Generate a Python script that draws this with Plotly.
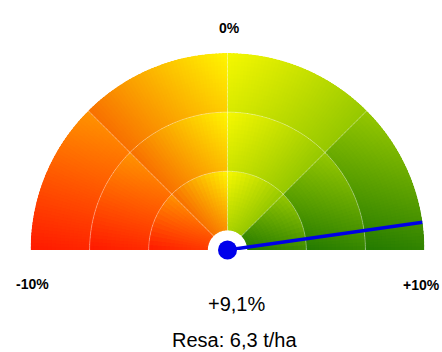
import math
import plotly.graph_objects as go

# ---------------- data ----------------
scale_min = -10.0
scale_max = 10.0
value_pct = 9.1
value_label = "+9,1%"
yield_label = "Resa: 6,3 t/ha"
tick_labels = ["-10%", "0%", "+10%"]

# gauge geometry (fractions of outer radius) and sector boundaries (degrees)
ring_edges = [0.1, 0.4, 0.7, 1.0]
sector_edges = [180, 135, 90, 45, 0]
# per-sector linear gradient: direction (deg), start colour, end colour
sector_dirs = [75, 45, -45, -105]
sector_start = [(255, 25, 0), (248, 112, 0), (246, 248, 0), (150, 200, 0)]
sector_end = [(255, 148, 0), (255, 246, 0), (150, 200, 0), (35, 122, 0)]

# ---------------- helpers ----------------
W, H = 442, 352
CX, CY, R = 227.5, 250.0, 197.0


def px(x):
    return x / W


def py(y):
    return 1 - y / H


def lerp(c0, c1, t):
    t = max(0.0, min(1.0, t))
    return "rgb(%d,%d,%d)" % tuple(round(a + (b - a) * t) for a, b in zip(c0, c1))


RAD_SUB = 14
ARC_PX = 3.0
OVER = 1.5
bar_theta, bar_r, bar_base, bar_width, bar_color = [], [], [], [], []
for s in range(4):
    a_hi, a_lo = sector_edges[s], sector_edges[s + 1]
    phi = math.radians(sector_dirs[s])
    dx, dy = math.cos(phi), math.sin(phi)
    for k in range(3):
        r0, r1 = ring_edges[k], ring_edges[k + 1]
        projs = []
        for i in range(41):
            a = math.radians(a_lo + (a_hi - a_lo) * i / 40)
            for rr in (r0, r1):
                projs.append(rr * (math.cos(a) * dx + math.sin(a) * dy))
        pmin, pmax = min(projs), max(projs)
        rmid = 0.5 * (r0 + r1) * R
        n_ang = max(8, int(round(math.radians(a_hi - a_lo) * rmid / ARC_PX)))
        astep = (a_hi - a_lo) / n_ang
        dr = (r1 - r0) / RAD_SUB
        for i in range(n_ang):
            last_a = i == n_ang - 1
            w = astep if last_a else astep * OVER
            ac = a_lo + i * astep + w / 2
            ar = math.radians(a_lo + (i + 0.5) * astep)
            for j in range(RAD_SUB):
                last_r = j == RAD_SUB - 1
                rc = r0 + (j + 0.5) * dr
                p = rc * (math.cos(ar) * dx + math.sin(ar) * dy)
                t = (p - pmin) / (pmax - pmin)
                bar_theta.append(ac)
                bar_width.append(w)
                bar_base.append(r0 + j * dr)
                bar_r.append(dr if last_r else dr * OVER)
                bar_color.append(lerp(sector_start[s], sector_end[s], t))

fig = go.Figure()
fig.add_trace(go.Barpolar(
    theta=bar_theta, r=bar_r, base=bar_base, width=bar_width,
    marker=dict(color=bar_color, line=dict(width=0)),
    hoverinfo="skip", showlegend=False,
))

# separators (ring boundaries and sector boundaries)
sep = "rgba(255,255,255,0.35)"
for rr in ring_edges[1:3]:
    th = [i * 0.5 for i in range(361)]
    fig.add_trace(go.Scatterpolar(r=[rr] * len(th), theta=th, mode="lines",
                                  line=dict(color=sep, width=1),
                                  hoverinfo="skip", showlegend=False))
for a in sector_edges[1:4]:
    fig.add_trace(go.Scatterpolar(r=[ring_edges[0], ring_edges[-1]], theta=[a, a], mode="lines",
                                  line=dict(color=sep, width=1),
                                  hoverinfo="skip", showlegend=False))

# needle
needle_theta = 180 - (value_pct - scale_min) / (scale_max - scale_min) * 180
fig.add_trace(go.Scatterpolar(r=[0, 1.0], theta=[needle_theta, needle_theta], mode="lines",
                              line=dict(color="rgb(0,0,230)", width=3.5),
                              hoverinfo="skip", showlegend=False, cliponaxis=False))
# hub shadow and hub
fig.add_trace(go.Scatterpolar(r=[0.022], theta=[-52], mode="markers",
                              marker=dict(color="black", size=19, line=dict(width=0)),
                              hoverinfo="skip", showlegend=False, cliponaxis=False))
fig.add_trace(go.Scatterpolar(r=[0], theta=[0], mode="markers",
                              marker=dict(color="rgb(0,0,235)", size=19, line=dict(width=0)),
                              hoverinfo="skip", showlegend=False, cliponaxis=False))

fig.update_layout(
    width=W, height=H,
    margin=dict(l=0, r=0, t=0, b=0),
    paper_bgcolor="white",
    showlegend=False,
    polar=dict(
        domain=dict(x=[px(CX - R), px(CX + R)], y=[py(CY), py(CY - R)]),
        sector=[0, 180],
        bgcolor="white",
        radialaxis=dict(range=[0, 1], visible=False, showgrid=False, showline=False,
                        showticklabels=False, ticks=""),
        angularaxis=dict(visible=False, showgrid=False, showline=False,
                         showticklabels=False, ticks="", rotation=0, direction="counterclockwise"),
    ),
)

lab_font = dict(family="Liberation Sans, Arial, sans-serif", size=14, color="black")
fig.add_annotation(x=px(32), y=py(284), xref="paper", yref="paper", text="<b>%s</b>" % tick_labels[0],
                   showarrow=False, font=lab_font, xanchor="center", yanchor="middle")
fig.add_annotation(x=px(229), y=py(28), xref="paper", yref="paper", text="<b>%s</b>" % tick_labels[1],
                   showarrow=False, font=lab_font, xanchor="center", yanchor="middle")
fig.add_annotation(x=px(421), y=py(285), xref="paper", yref="paper", text="<b>%s</b>" % tick_labels[2],
                   showarrow=False, font=lab_font, xanchor="center", yanchor="middle")
big_font = dict(family="Liberation Sans, Arial, sans-serif", size=20, color="black")
fig.add_annotation(x=px(236.5), y=py(304), xref="paper", yref="paper", text=value_label,
                   showarrow=False, font=big_font, xanchor="center", yanchor="middle")
fig.add_annotation(x=px(234.5), y=0, xref="paper", yref="paper", text=yield_label,
                   showarrow=False, font=big_font, xanchor="center", yanchor="bottom",
                   borderpad=0)

fig.write_html("out.html", config={"displayModeBar": False},
               post_script="document.body.style.margin='0';document.body.style.overflow='hidden';")
